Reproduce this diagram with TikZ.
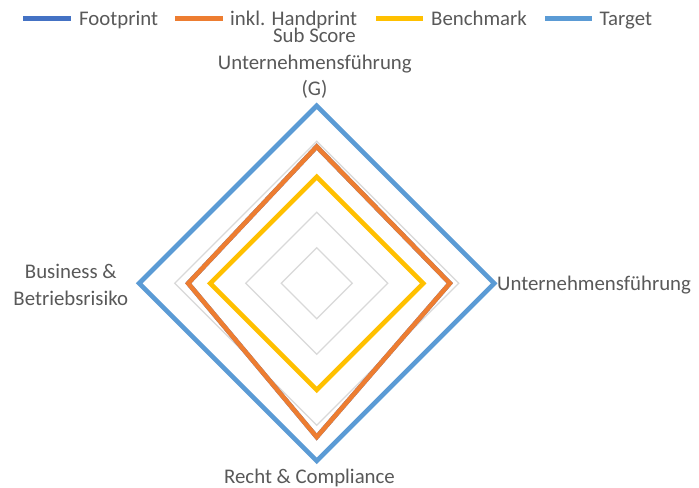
\documentclass[tikz,border=0pt]{standalone}
\usepackage{fontspec}
\setmainfont{Carlito}
\usetikzlibrary{calc}
\definecolor{txtc}{HTML}{595959}
\definecolor{gridc}{HTML}{D9D9D9}
\definecolor{fpc}{HTML}{4472C4}
\definecolor{hpc}{HTML}{ED7D31}
\definecolor{bmc}{HTML}{FFC000}
\definecolor{tgc}{HTML}{5B9BD5}
\newcommand\myradar[6]{%
  \draw[series,draw=#1] ($(O)+(0,-#2*\u)$) -- ($(O)+(#3*\u,0)$) -- ($(O)+(0,#4*\u)$) -- ($(O)+(-#5*\u,0)$) -- cycle;}
\begin{document}
\begin{tikzpicture}[x=1bp,y=-1bp,
  lbl/.style={text=txtc,font=\fontsize{20.9pt}{26.8pt}\selectfont,inner sep=0pt},
  gridline/.style={draw=gridc,line width=1.2bp},
  series/.style={line width=4.6bp,line join=miter},
  swatch/.style={line width=4.6bp}]
\useasboundingbox (0,0) rectangle (699,488);
\fill[white] (0,0) rectangle (699,488);
\coordinate (O) at (316.7,283.3);
\def\u{35.5}
% grid
\foreach \k in {1,...,5}{
  \draw[gridline] ($(O)+(0,-\k*\u)$) -- ($(O)+(\k*\u,0)$) -- ($(O)+(0,\k*\u)$) -- ($(O)+(-\k*\u,0)$) -- cycle;
}
% series
\myradar{fpc}{3.85}{3.75}{4.33}{3.62}{}
\myradar{hpc}{3.85}{3.75}{4.33}{3.62}{}
\myradar{bmc}{3}{3}{3}{3}{}
\myradar{tgc}{5}{5}{5}{5}{}
% axis labels
\node[lbl,anchor=base] (t1) at (314.5,42.3) {Sub Score};
\node[lbl,anchor=base] (t2) at (314.8,69.2) {Unternehmensführung};
\node[lbl,anchor=base] (t3) at (314.5,95.4) {(G)};
\node[lbl,anchor=base west] (r1) at (497,290) {Unternehmensführung};
\node[lbl,anchor=base] (b1) at (309.5,483.2) {Recht \& Compliance};
\node[lbl,anchor=base] (l1) at (70.8,278.4) {Business \&};
\node[lbl,anchor=base] (l2) at (70.8,305) {Betriebsrisiko};
% legend
\draw[swatch,fpc] (23,18.3) -- (71,18.3);
\node[lbl,anchor=base west] (g1) at (79,26) {Footprint};
\draw[swatch,hpc] (175,18.3) -- (222.5,18.3);
\node[lbl,anchor=base west] (g2) at (230,26) {inkl. Handprint};
\draw[swatch,bmc] (376,18.3) -- (423,18.3);
\node[lbl,anchor=base west] (g3) at (431,26) {Benchmark};
\draw[swatch,tgc] (545,18.3) -- (592,18.3);
\node[lbl,anchor=base west] (g4) at (599.5,26) {Target};
\end{tikzpicture}
\end{document}
